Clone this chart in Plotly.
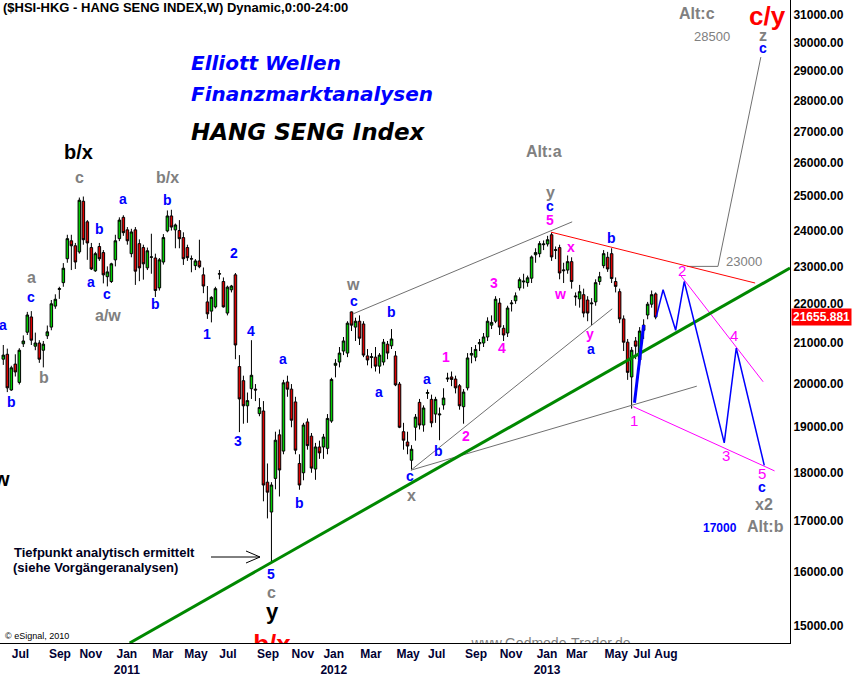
import math
import pandas as pd
import plotly.graph_objects as go

# ---------------- data ----------------
first_week = "2010-06-21"

opens = [20600, 20720, 19860, 20480, 20040, 20980, 21270, 21660, 20920, 21000,
         20820, 21180, 21400, 21940, 22380, 22560, 23210, 23710, 23570, 23400,
         24850, 24250, 23520, 22880, 23550, 23380, 22720, 22590, 23180, 23770,
         24380, 24020, 23350, 24020, 23630, 23520, 22960, 23250, 23230, 22420,
         23120, 23990, 24420, 24020, 24000, 23800, 23520, 23200, 23020, 23150,
         22770, 22050, 21810, 21920, 22790, 22590, 21760, 22370, 22770, 20420,
         20080, 19490, 19890, 19880, 19310, 19370, 17800, 17180, 17880, 18830,
         18470, 20050, 19880, 19580, 18200, 18000, 19120, 18800, 18080, 18560,
         18560, 18530, 19140, 20450, 20530, 20800, 20750, 21790, 21400, 21550,
         21480, 20680, 20640, 20650, 20430, 20530, 20970, 20930, 20680, 20000,
         18900, 18670, 18270, 19000, 19570, 19050, 19780, 19640, 19300, 19280,
         19510, 20120, 20170, 20120, 19960, 19470, 19910, 20700, 20650, 20980,
         21000, 21150, 21450, 21550, 22020, 21370, 21250, 22000, 22080, 22420,
         22580, 22560, 22680, 23320, 23350, 23600, 23620, 23880, 23440, 23520,
         22880, 22900, 23130, 22180, 22130, 22240, 22100, 22000, 22050, 22590,
         23020, 23250, 23350, 22590, 22320, 21610, 21020, 20170, 21050, 20580,
         21320, 21710, 21990, 22260]
highs = [20950, 20860, 20440, 20720, 20870, 21190, 21790, 21810, 21260, 21070,
         21050, 21440, 22100, 22250, 22450, 23090, 23880, 23880, 23650, 24960,
         24990, 24300, 23650, 23400, 23650, 23450, 23000, 23100, 23880, 24380,
         24440, 24100, 24050, 24100, 23750, 23600, 23520, 23910, 23350, 23230,
         23900, 24580, 24600, 24200, 24300, 23950, 23600, 23300, 23200, 23740,
         22970, 22470, 22200, 22450, 22900, 22700, 22480, 22500, 22820, 20700,
         20200, 19800, 21070, 20000, 19670, 19600, 18200, 17800, 18900, 18950,
         20100, 20200, 20000, 19700, 18400, 19100, 19200, 18870, 18650, 18700,
         18850, 19300, 20150, 20600, 20900, 21150, 21550, 21800, 21640, 21700,
         21550, 20850, 20750, 20900, 20750, 21100, 21050, 21350, 20800, 20050,
         19100, 18900, 18600, 19300, 19650, 19500, 19870, 19750, 19700, 19450,
         19900, 20270, 20300, 20200, 20000, 19880, 20750, 20900, 20950, 21100,
         21250, 21650, 21700, 22200, 22150, 21450, 21950, 22100, 22300, 22700,
         22800, 22750, 23300, 23500, 23700, 23720, 23850, 23944, 23550, 23600,
         23100, 23300, 23250, 22300, 22500, 22400, 22200, 22150, 22650, 22850,
         23450, 23400, 23500, 22700, 22400, 21700, 21100, 20900, 21150, 21400,
         21600, 22050, 22350, 22300]
lows = [20460, 19810, 19840, 20180, 19990, 20900, 21200, 20950, 20820, 20510,
        20400, 21100, 21320, 21870, 22130, 22450, 23100, 22900, 22930, 23350,
        23600, 23180, 22900, 22850, 23150, 22540, 22460, 22550, 23000, 23700,
        23850, 23600, 23250, 22500, 22600, 22640, 22900, 22800, 22180, 22350,
        23050, 23950, 24000, 23500, 23500, 23040, 23150, 22840, 22900, 22950,
        22280, 21610, 21520, 21880, 22650, 21900, 21700, 22300, 20600, 18890,
        19080, 19100, 19650, 19600, 19250, 17400, 17050, 16170, 17650, 17500,
        18400, 19700, 19000, 18400, 17640, 17840, 18500, 18000, 17850, 18300,
        18300, 18400, 19100, 20160, 20400, 20700, 20650, 21300, 21050, 20950,
        20650, 20450, 20380, 20300, 20250, 20450, 20600, 20850, 19950, 18980,
        18500, 18400, 18056, 18700, 18950, 18900, 19650, 19000, 19100, 18710,
        19400, 20050, 19950, 19780, 19400, 19080, 19850, 20500, 20550, 20800,
        20900, 21050, 21350, 21500, 21200, 21050, 21150, 21800, 22000, 22350,
        22400, 22450, 22550, 23100, 23250, 23450, 23550, 23150, 23200, 22650,
        22550, 22800, 22400, 21950, 21900, 21650, 21550, 21450, 21950, 22500,
        22950, 22850, 22550, 22300, 21500, 20800, 20100, 19426, 20600, 20450,
        21100, 21600, 21900, 21600]
closes = [20700, 19910, 20390, 20290, 20820, 21050, 21710, 21070, 21000, 20600,
          20970, 21280, 22000, 22120, 22400, 22950, 23770, 23570, 23120, 24880,
          23740, 23650, 22930, 23350, 23210, 22770, 22850, 23070, 23710, 24300,
          23940, 23710, 23960, 22870, 22960, 23070, 23430, 23260, 22350, 23180,
          23800, 24420, 24100, 24160, 23770, 23210, 23240, 23210, 23150, 22990,
          22470, 21740, 22170, 22400, 22800, 21920, 22440, 22470, 20950, 19650,
          19490, 19610, 20210, 19860, 19450, 17740, 17590, 17740, 18710, 18060,
          20030, 19880, 19160, 18490, 17740, 19050, 18590, 18100, 18560, 18430,
          18780, 19200, 20110, 20500, 20750, 21050, 21500, 21450, 21550, 21120,
          20700, 20580, 20660, 20430, 20700, 21020, 20750, 21100, 19980, 19000,
          18710, 18580, 18510, 19230, 19050, 19440, 19800, 19100, 19640, 19300,
          19670, 20140, 20110, 19910, 19490, 19810, 20630, 20740, 20840, 21010,
          21150, 21550, 21520, 22120, 21400, 21200, 21890, 22020, 22210, 22640,
          22600, 22690, 23260, 23380, 23630, 23620, 23740, 23260, 23460, 22820,
          22900, 23130, 22590, 22200, 22320, 21760, 21760, 22020, 22560, 22720,
          23350, 22930, 22670, 22460, 21610, 21020, 20280, 20820, 20920, 21300,
          21450, 21990, 22240, 21655.881]

last_price = 21655.881

y_ticks = list(range(15000, 31001, 1000))
y_tick_labels = [f"{v}.00" for v in y_ticks]

month_ticks = ["2010-07-21", "2010-09-28", "2010-11-21", "2011-01-23", "2011-03-27",
               "2011-05-24", "2011-07-19", "2011-09-27", "2011-11-27", "2012-01-20",
               "2012-03-25", "2012-05-29", "2012-07-18", "2012-09-25", "2012-11-25",
               "2013-01-27", "2013-03-20", "2013-05-28", "2013-07-12", "2013-08-23"]
month_labels = ["Jul", "Sep", "Nov", "Jan<br>2011", "Mar", "May", "Jul", "Sep", "Nov",
                "Jan<br>2012", "Mar", "May", "Jul", "Sep", "Nov", "Jan<br>2013", "Mar",
                "May", "Jul", "Aug"]

# trend lines (date, price)
green_dates, green_prices = ["2011-01-28", "2014-03-28"], [14705, 22955]
red_dates, red_prices = ["2013-02-03", "2014-01-26"], [23955, 22550]
upper_dates, upper_prices = ["2012-02-23", "2013-03-12"], [21740, 24250]
steep_dates, steep_prices = ["2012-06-03", "2013-05-21"], [18056, 21870]
flat_dates, flat_prices = ["2012-06-03", "2013-10-16"], [18056, 19950]
altc_dates, altc_prices = ["2013-09-29", "2013-11-22", "2014-02-05"], [23000, 23000, 29490]
impulse_dates, impulse_prices = ["2013-06-29", "2013-07-15"], [19560, 21450]
proj_dates = ["2013-08-06", "2013-08-18", "2013-09-09", "2013-09-24",
              "2013-12-03", "2013-12-24", "2014-02-11"]
proj_prices = [21656, 22370, 21320, 22590, 18650, 20870, 18160]
mag_low_dates, mag_low_prices = ["2013-06-27", "2014-03-01"], [19470, 18040]
mag_high_dates, mag_high_prices = ["2013-09-17", "2014-02-09"], [22770, 20055]

# ---------------- figure ----------------
W, H = 853, 676
ML, MR, MT, MB = 0, 63, 0, 33
PW, PH = W - ML - MR, H - MT - MB
ARIAL = "Liberation Sans, Arial, sans-serif"
BLUE, GRAY, MAG, BLACK, RED = "#0000ff", "#808080", "#ff00ff", "#000000", "#ff0000"

weeks = pd.date_range(first_week, periods=len(closes), freq="7D")

fig = go.Figure()
fig.add_trace(go.Candlestick(
    x=weeks, open=opens, high=highs, low=lows, close=closes,
    increasing=dict(fillcolor="#00cc00", line=dict(color="black", width=1)),
    decreasing=dict(fillcolor="#dd0000", line=dict(color="black", width=1)),
    whiskerwidth=0, showlegend=False, hoverinfo="skip"))


def add_line(xs, ys, color, width):
    fig.add_trace(go.Scatter(x=xs, y=ys, mode="lines", line=dict(color=color, width=width),
                             showlegend=False, hoverinfo="skip"))


add_line(upper_dates, upper_prices, "#707070", 1)
add_line(steep_dates, steep_prices, "#707070", 1)
add_line(flat_dates, flat_prices, "#707070", 1)
add_line(altc_dates, altc_prices, "#707070", 1)
add_line(red_dates, red_prices, RED, 1)
add_line(mag_low_dates, mag_low_prices, MAG, 1)
add_line(mag_high_dates, mag_high_prices, MAG, 1)
add_line(green_dates, green_prices, "#008800", 3)
add_line(proj_dates, proj_prices, BLUE, 1.5)
add_line(impulse_dates, impulse_prices, BLUE, 3)

# texts cut by the bottom edge of the plot area
fig.add_trace(go.Scatter(x=["2011-10-04"], y=[14872], mode="text", text=["<b>b/x</b>"],
                         textposition="bottom center", cliponaxis=True,
                         textfont=dict(family=ARIAL, size=26, color=RED),
                         showlegend=False, hoverinfo="skip"))
fig.add_trace(go.Scatter(x=["2013-02-03"], y=[14793], mode="text", text=["www.Godmode-Trader.de"],
                         textposition="bottom center", cliponaxis=True,
                         textfont=dict(family=ARIAL, size=14, color=GRAY),
                         showlegend=False, hoverinfo="skip"))


def lab(text, px, py, color, size, bold=True, anchor="center", family=ARIAL):
    t = f"<b>{text}</b>" if bold else text
    fig.add_annotation(text=t, x=px / PW, y=1 - py / PH, xref="paper", yref="paper",
                       showarrow=False, xanchor=anchor, yanchor="middle",
                       font=dict(family=family, size=size, color=color))


labels = [
    ("a", 3, 325, BLUE, 14), ("b", 11, 402, BLUE, 14), ("a", 31, 277, GRAY, 16),
    ("c", 31, 297, BLUE, 14), ("b", 44, 377, GRAY, 16), ("c", 79, 177, GRAY, 16),
    ("b/x", 78, 152, BLACK, 20), ("b", 99, 229, BLUE, 14), ("a", 91, 282, BLUE, 14),
    ("c", 107, 294, BLUE, 14), ("a/w", 108, 316, GRAY, 16), ("a", 123, 199, BLUE, 14),
    ("b/x", 167, 177, GRAY, 16), ("b", 167, 200, BLUE, 14), ("b", 155, 304, BLUE, 14),
    ("1", 207, 334, BLUE, 14), ("2", 234, 253, BLUE, 14), ("4", 251, 331, BLUE, 14),
    ("3", 238, 441, BLUE, 14), ("a", 283, 359, BLUE, 14), ("b", 299, 503, BLUE, 14),
    ("5", 271, 574, BLUE, 14), ("c", 271, 592, GRAY, 16), ("y", 272, 611, BLACK, 22),
    ("w", 353, 284, GRAY, 16), ("c", 354, 301, BLUE, 14), ("b", 391, 312, BLUE, 14),
    ("a", 379, 392, BLUE, 14), ("a", 427, 379, BLUE, 14), ("b", 439, 451, BLUE, 14),
    ("c", 410, 476, BLUE, 14), ("x", 411, 496, GRAY, 16), ("1", 446, 357, MAG, 14),
    ("2", 466, 436, MAG, 14), ("3", 494, 283, MAG, 14), ("4", 502, 348, MAG, 14),
    ("Alt:a", 544, 152, GRAY, 16), ("y", 550, 192, GRAY, 16), ("c", 550, 206, BLUE, 14),
    ("5", 550, 220, MAG, 14), ("x", 571, 247, MAG, 14), ("w", 560, 294, MAG, 14),
    ("b", 611, 238, BLUE, 14), ("y", 590, 334, MAG, 14), ("a", 591, 349, BLUE, 14),
    ("c", 762, 487, BLUE, 14), ("x2", 764, 504, GRAY, 16), ("Alt:b", 765, 526, GRAY, 16),
    ("17000", 720, 528, BLUE, 12), ("Alt:c", 697, 14, GRAY, 16), ("z", 763, 35, GRAY, 16),
    ("c", 763, 48, BLUE, 14), ("c/y", 767, 16, RED, 26), ("w", 1, 479, BLACK, 20),
]
for t, px, py, c, s in labels:
    lab(t, px, py, c, s)

for t, px, py in [("1", 634, 420), ("2", 682, 270), ("3", 726, 455), ("4", 734, 335), ("5", 762, 473)]:
    lab(t, px, py, MAG, 15, bold=False)
lab("23000", 744, 261, GRAY, 13, bold=False)
lab("28500", 712, 36, GRAY, 13, bold=False)

# headings
lab("($HSI-HKG - HANG SENG INDEX,W) Dynamic,0:00-24:00", 1, 8, BLACK, 13, anchor="left")
lab("<i>Elliott Wellen</i>", 189, 63, BLUE, 20, anchor="left", family="DejaVu Sans")
lab("<i>Finanzmarktanalysen</i>", 189, 94, BLUE, 20, anchor="left", family="DejaVu Sans")
lab("<i>HANG SENG Index</i>", 189, 132, BLACK, 23, anchor="left", family="DejaVu Sans")
lab("Tiefpunkt analytisch ermittelt", 12, 552, "#000020", 13, anchor="left")
lab("(siehe Vorgängeranalysen)", 11, 567, "#000020", 13, anchor="left")
lab("© eSignal, 2010", 3, 636, BLACK, 9, bold=False, anchor="left")

# arrow pointing at the low
for (x0, y0, x1, y1) in [(211, 557, 260, 557), (246, 551, 260, 557), (246, 563, 260, 557)]:
    fig.add_shape(type="line", xref="paper", yref="paper",
                  x0=x0 / PW, y0=1 - y0 / PH, x1=x1 / PW, y1=1 - y1 / PH,
                  line=dict(color="black", width=1))

# last price box
fig.add_annotation(text="<b>21655.881</b>", x=1, xref="paper", y=math.log10(last_price), yref="y",
                   xanchor="left", yanchor="middle", showarrow=False, xshift=1,
                   bgcolor=RED, borderpad=1,
                   font=dict(family=ARIAL, size=12, color="white"))

fig.update_layout(
    width=W, height=H, margin=dict(l=ML, r=MR, t=MT, b=MB, autoexpand=False),
    paper_bgcolor="white", plot_bgcolor="white", showlegend=False,
    boxgap=0.1,
    xaxis=dict(type="date", range=["2010-06-15 05:00", "2014-03-28"], automargin=False,
               tickvals=month_ticks, ticktext=month_labels, ticks="",
               tickfont=dict(family=ARIAL, size=12, color="#000033", weight="bold"),
               showline=True, linecolor="black", linewidth=1, showgrid=False,
               zeroline=False, rangeslider=dict(visible=False)),
    yaxis=dict(type="log", range=[math.log10(14705), math.log10(31560)], side="right",
               automargin=False,
               tickvals=y_ticks, ticktext=y_tick_labels, ticks="",
               tickfont=dict(family=ARIAL, size=12, color="black", weight="bold"),
               showline=True, linecolor="black", linewidth=1, showgrid=False,
               zeroline=False),
)

fig.write_html("out.html", config={"displayModeBar": False},
               post_script="document.body.style.margin='0px';document.body.style.overflow='hidden';")
